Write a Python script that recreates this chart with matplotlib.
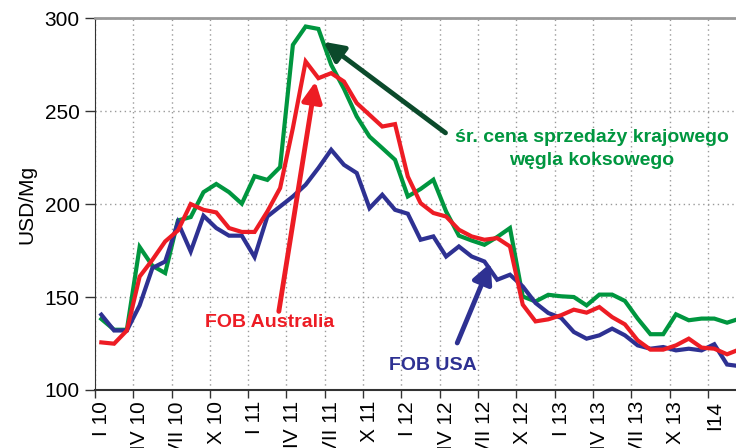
import numpy as np
import matplotlib
matplotlib.use("Agg")
import matplotlib.pyplot as plt

plt.rcParams['font.family'] = ['Liberation Sans', 'DejaVu Sans']

# monthly prices, I 2010 .. III 2014 (USD/Mg)
green = [138.2, 132.4, 132.4, 176.9, 166.8, 162.9, 191.2, 193.0, 206.4, 210.8,
         206.4, 200.2, 215.0, 213.0, 219.9, 285.6, 295.5, 294.2, 274.9, 262.0,
         247.1, 236.3, 230.1, 223.8, 204.1, 208.1, 213.1, 196.0, 183.0, 180.4,
         178.1, 182.3, 187.1, 150.3, 147.6, 151.2, 150.4, 150.0, 145.5, 151.3,
         151.3, 147.9, 138.4, 130.0, 130.0, 140.7, 137.5, 138.4, 138.4, 136.2,
         138.4]
red = [125.6, 124.9, 132.0, 161.0, 170.0, 179.9, 185.8, 200.0, 196.9, 195.5,
       187.1, 185.0, 185.0, 196.0, 208.6, 240.9, 276.7, 267.7, 270.4, 265.9,
       254.3, 248.0, 241.7, 243.0, 214.8, 200.5, 195.2, 193.3, 186.2, 182.6,
       180.8, 181.7, 177.2, 145.9, 136.9, 138.0, 140.2, 143.2, 141.6, 144.6,
       139.2, 135.3, 126.7, 121.7, 121.7, 124.0, 127.6, 122.8, 122.2, 119.2,
       121.9]
blue = [140.5, 132.0, 132.0, 145.5, 165.6, 169.1, 190.1, 174.5, 193.7, 187.1,
        183.0, 183.0, 171.5, 193.3, 198.7, 204.1, 210.4, 219.4, 229.2, 221.1,
        216.7, 197.8, 205.0, 196.9, 194.8, 180.8, 182.6, 171.8, 177.2, 171.8,
        169.1, 159.3, 162.0, 155.7, 146.8, 141.4, 138.8, 131.2, 127.6, 129.4,
        133.0, 129.4, 124.0, 122.2, 123.1, 121.3, 122.2, 121.3, 124.6, 113.7,
        112.8]
tick_labels = ['I 10', 'IV 10', 'VII 10', 'X 10', 'I 11', 'IV 11', 'VII 11', 'X 11',
               'I 12', 'IV 12', 'VII 12', 'X 12', 'I 13', 'IV 13', 'VII 13', 'X 13', 'I14']

c_green = '#00963f'
c_red = '#ed1c24'
c_blue = '#2e3192'
c_arrow = '#0b4a2b'

x = np.arange(len(green))

fig = plt.figure(figsize=(7.36, 4.48), dpi=100)
ax = fig.add_axes([0.129, 0.1295, 0.871, 0.830])

ax.plot(x, green, color=c_green, lw=3, solid_joinstyle='miter', zorder=3)
ax.plot(x, red, color=c_red, lw=3, solid_joinstyle='miter', zorder=4)
ax.plot(x, blue, color=c_blue, lw=3, solid_joinstyle='miter', zorder=3)

ax.set_xlim(-0.5, 49.7)
ax.set_ylim(100, 300)
ax.set_yticks([100, 150, 200, 250, 300])

# ticks between months, labels at the month itself
ax.set_xticks(np.arange(0, 51, 3) - 0.5)
ax.set_xticklabels([])
ax.set_xticks(np.arange(0, 51, 3), minor=True)
ax.set_xticklabels(tick_labels, minor=True, rotation=90, fontsize=15)
ax.tick_params(axis='x', which='minor', length=0, pad=8)
ax.tick_params(axis='x', which='major', length=6, width=1, color='#333333')
ax.tick_params(axis='y', length=7, width=1, color='#333333', labelsize=15, pad=4)

ax.grid(True, which='major', linestyle=(0, (1, 2.5)), color='#999999', lw=1)
ax.set_ylabel('USD/Mg', fontsize=15, labelpad=6)

ax.spines['top'].set_color('#999999')
ax.spines['top'].set_linewidth(2)
ax.spines['right'].set_visible(False)
ax.spines['left'].set_color('#333333')
ax.spines['bottom'].set_color('#333333')
ax.spines['bottom'].set_linewidth(1.5)

# annotations
ax.annotate('', xy=(17.4, 287.3), xytext=(26.95, 238.3),
            arrowprops=dict(arrowstyle='-|>', color=c_arrow, lw=3.5, mutation_scale=30,
                            shrinkA=0, shrinkB=0), zorder=5)
ax.annotate('', xy=(16.77, 265.9), xytext=(13.9, 142.3),
            arrowprops=dict(arrowstyle='-|>', color=c_red, lw=3.5, mutation_scale=30,
                            shrinkA=0, shrinkB=0), zorder=5)
ax.annotate('', xy=(30.48, 168.3), xytext=(27.87, 125.3),
            arrowprops=dict(arrowstyle='-|>', color=c_blue, lw=3.5, mutation_scale=30,
                            shrinkA=0, shrinkB=0), zorder=5)

ax.text(13.2, 136.4, 'FOB Australia', color=c_red, fontsize=14, fontweight='bold',
        ha='center', va='center')
ax.text(26.0, 113.0, 'FOB USA', color=c_blue, fontsize=14, fontweight='bold',
        ha='center', va='center')
ax.text(38.4, 229.5, 'śr. cena sprzedaży krajowego\nwęgla koksowego', color=c_green,
        fontsize=14, fontweight='bold', ha='center', va='center', linespacing=1.45)

fig.savefig('out.png', dpi=100)
